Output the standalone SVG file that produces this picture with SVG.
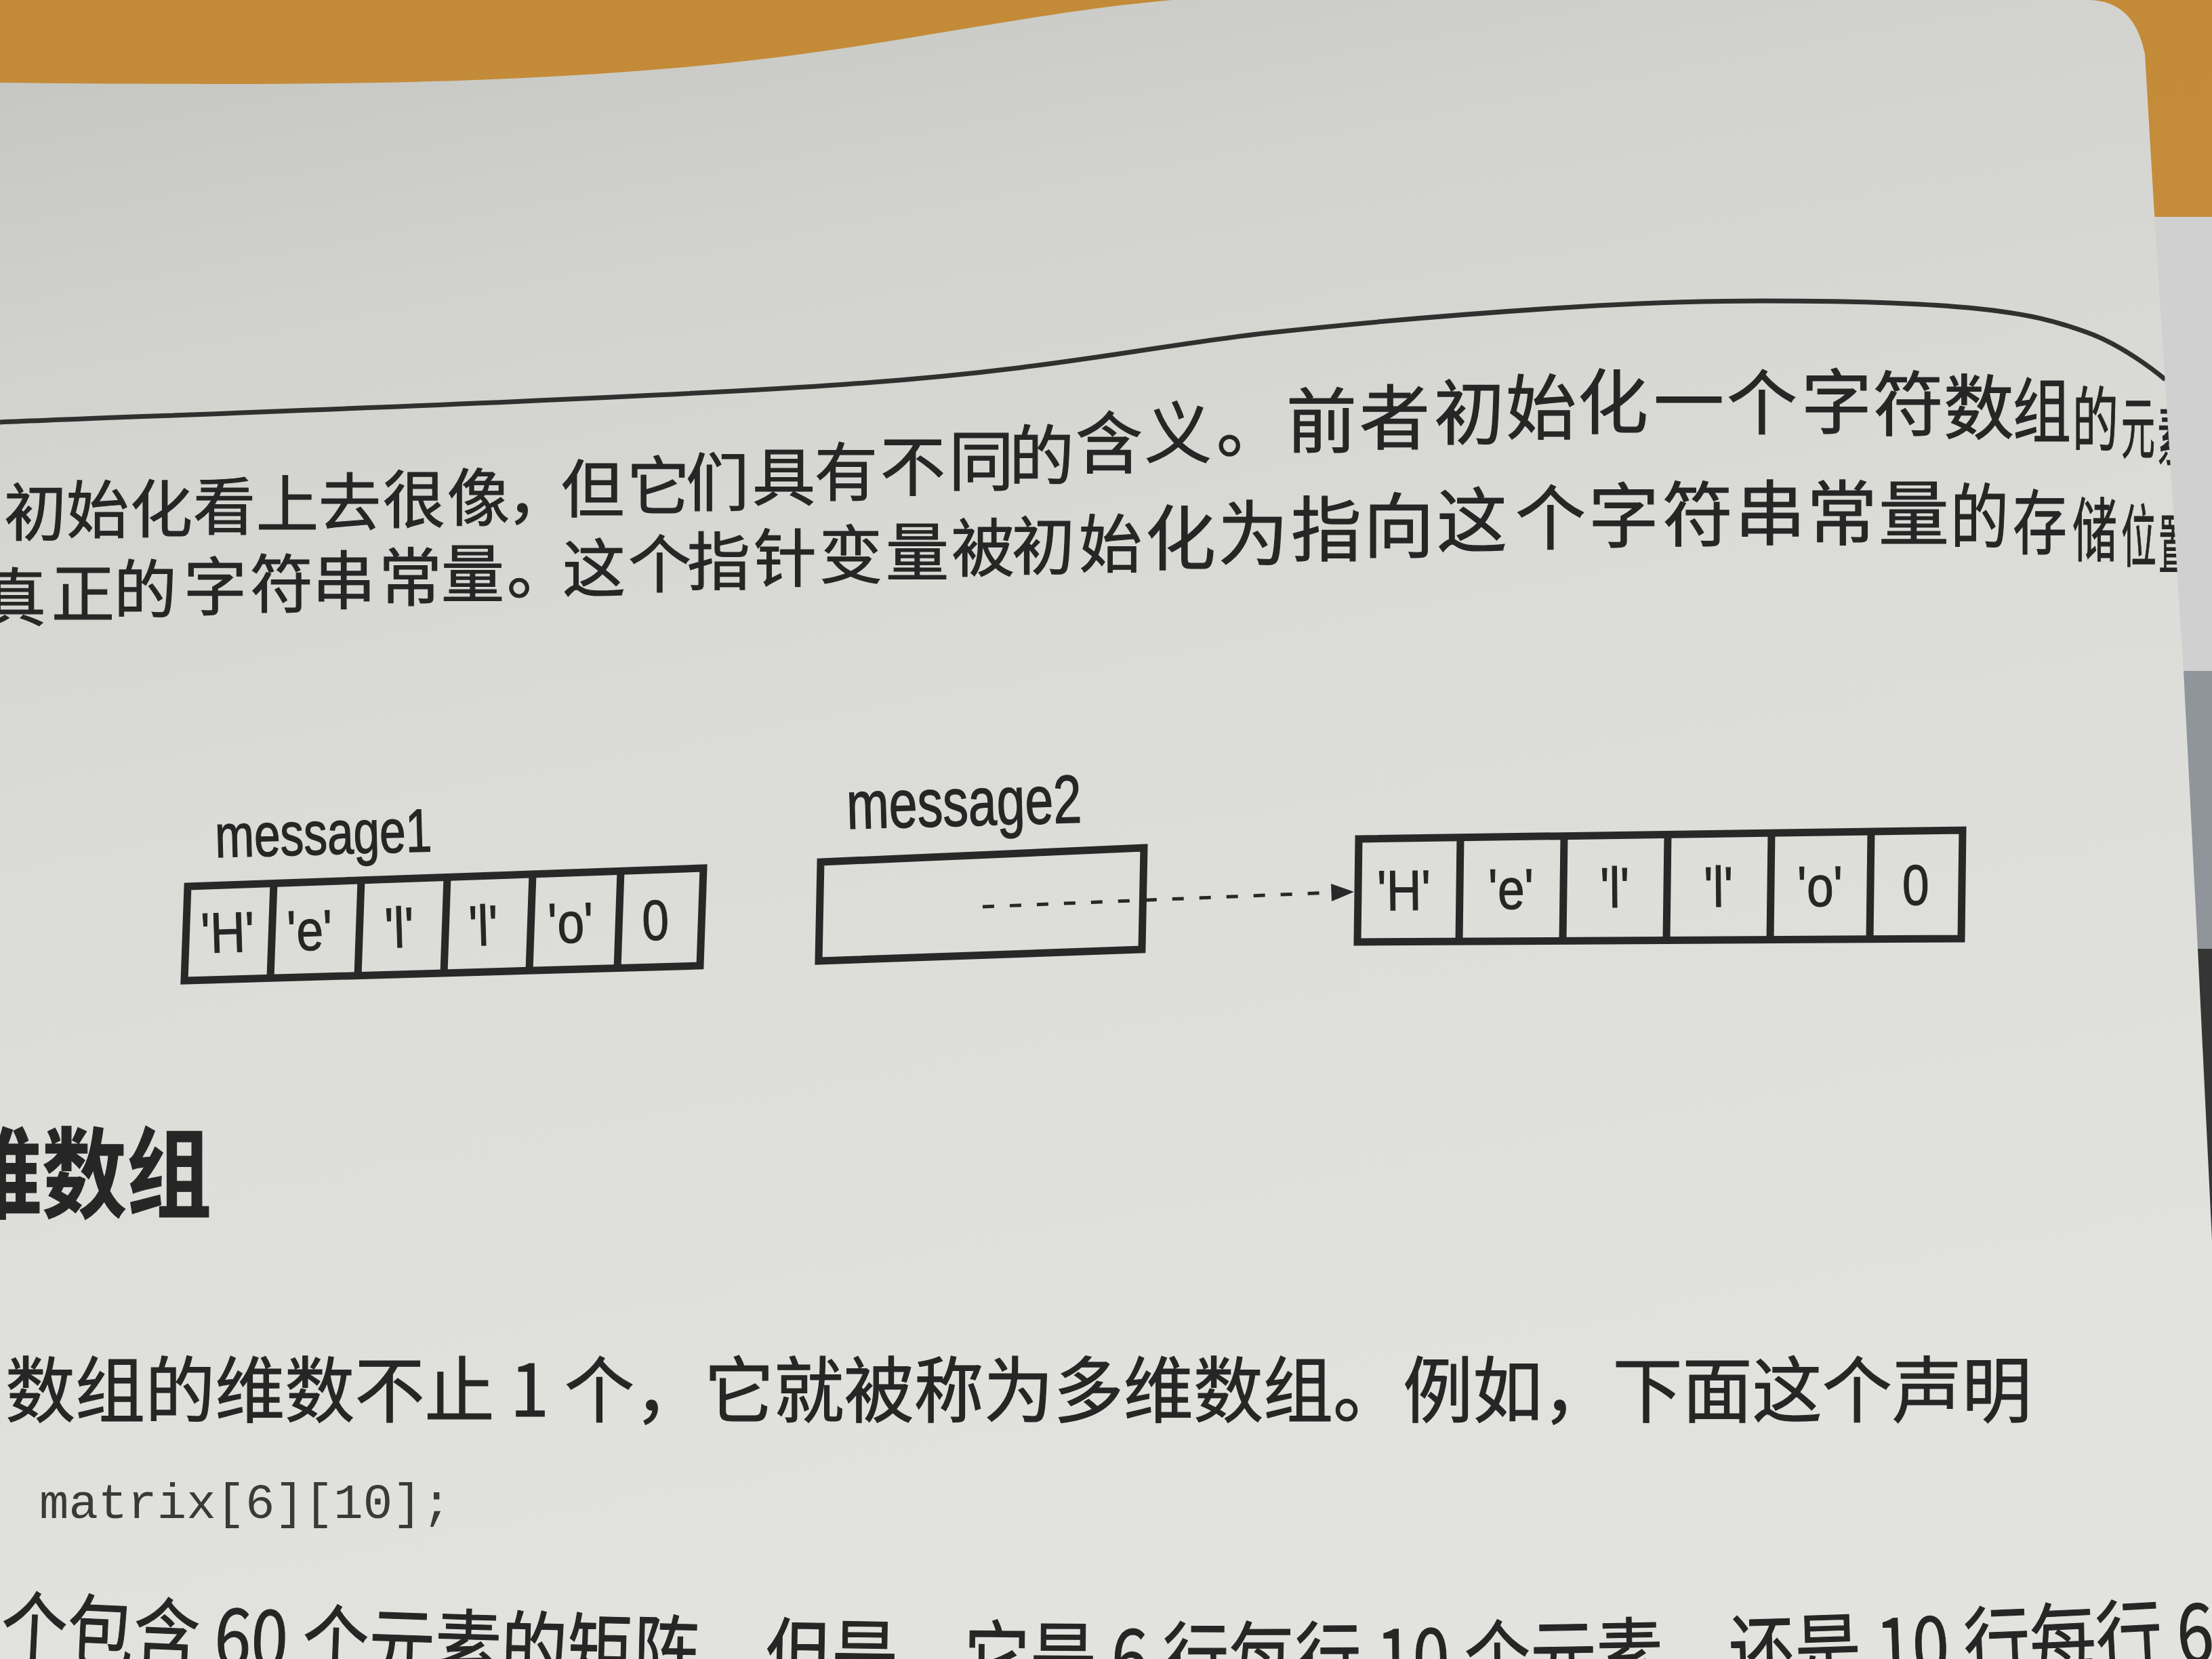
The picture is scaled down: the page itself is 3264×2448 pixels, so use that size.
<svg xmlns="http://www.w3.org/2000/svg" width="3264" height="2448" viewBox="0 0 3264 2448">
<defs>
<style>
.cjk{font-family:"Noto Sans CJK SC","Noto Sans",sans-serif;fill:#262626;stroke:#262626;stroke-width:1.2}
.lat{font-family:"Liberation Sans",Arial,sans-serif;fill:#262626;stroke:#262626;stroke-width:1.5}
.mono{font-family:"Liberation Mono","DejaVu Sans Mono",monospace;fill:#3a3a3a}
.box{fill:none;stroke:#282828;stroke-width:11;stroke-linejoin:miter}
.div{stroke:#282828;stroke-width:11}
.cell{font-family:"Liberation Sans",Arial,sans-serif;fill:#262626;stroke:#262626;stroke-width:1.2;font-size:84px;text-anchor:middle}
</style>
<linearGradient id="paper" x1="0" y1="0" x2="0.25" y2="1">
<stop offset="0" stop-color="#c3c4c0"/>
<stop offset="0.22" stop-color="#d2d3cf"/>
<stop offset="0.5" stop-color="#dbdcd7"/>
<stop offset="1" stop-color="#e2e3de"/>
</linearGradient>
<linearGradient id="wood" x1="0" y1="0" x2="0" y2="1">
<stop offset="0" stop-color="#c38a38"/>
<stop offset="1" stop-color="#d29c4e"/>
</linearGradient>
<clipPath id="pageClip">
<path d="M0,122 C400,126 700,126 1000,100 C1300,74 1500,20 1730,0 L3080,0 C3130,0 3155,30 3165,80 L3178,300 L3222,990 L3243,1400 L3264,1830 L3264,2448 L0,2448 Z"/>
</clipPath>
</defs>

<!-- background: wood and surroundings -->
<rect x="0" y="0" width="3264" height="2448" fill="url(#wood)"/>
<rect x="3100" y="320" width="164" height="670" fill="#cfd0cf"/>
<rect x="3100" y="990" width="164" height="410" fill="#8f959b"/>
<rect x="3100" y="1400" width="164" height="430" fill="#353535"/>

<!-- page -->
<path d="M0,122 C400,126 700,126 1000,100 C1300,74 1500,20 1730,0 L3080,0 C3130,0 3155,30 3165,80 L3178,300 L3222,990 L3243,1400 L3264,1830 L3264,2448 L0,2448 Z" fill="url(#paper)"/>

<g clip-path="url(#pageClip)">
<!-- header rule -->
<path d="M0,623 C208,614 937,589 1249,567 C1561,545 1700,510 1873,491 C2046,472 2168,463 2290,455 C2411,447 2498,444 2602,444 C2706,444 2834,447 2914,455 C2994,463 3034,474 3081,491 C3128,508 3176,544 3195,560" fill="none" stroke="#303030" stroke-width="7"/>

<!-- paragraph line 1 -->
<text class="cjk"><tspan font-size="92" x="6 98 192 285 378 470 565 660 748" y="790 786 785 781 778 775 771 768 764">初始化看上去很像，</tspan><tspan font-size="93" x="828 925 1012 1110 1202" y="756 751 746 738 731">但它们具有</tspan><tspan font-size="96" x="1299 1400 1489" y="723 715 707">不同的</tspan><tspan font-size="99" x="1587 1689 1795" y="690 675 666">含义。</tspan><tspan font-size="104" x="1898 2006 2116 2222 2328 2440 2548 2658 2764 2868" y="660 655 648 640 632 631 633 632 635 640">前者初始化一个字符数</tspan><tspan font-size="104" x="2970" y="645" textLength="86" lengthAdjust="spacingAndGlyphs">组</tspan><tspan font-size="104" x="3058" y="658" textLength="68" lengthAdjust="spacingAndGlyphs">的</tspan><tspan font-size="100" x="3130" y="668" textLength="50" lengthAdjust="spacingAndGlyphs">元</tspan><tspan font-size="96" x="3184" y="678" textLength="40" lengthAdjust="spacingAndGlyphs">素</tspan></text>

<!-- paragraph line 2 -->
<text class="cjk"><tspan font-size="93" x="-25 76 168 271 369 461 559 651 748 830 927 1014 1112 1209 1307 1404 1493 1592" y="916 910 904 900 896 891 886 881 876 873 867 863 858 853 849 843 840 837">真正的字符串常量。这个指针变量被初始</tspan><tspan font-size="104" x="1690 1797 1905 2012 2120 2236 2344 2453 2560 2666 2772" y="833 826 820 815 807 803 800 798 796 796 796">化为指向这个字符串常量</tspan><tspan font-size="104" x="2878" y="801" textLength="86" lengthAdjust="spacingAndGlyphs">的</tspan><tspan font-size="104" x="2970" y="810" textLength="80" lengthAdjust="spacingAndGlyphs">存</tspan><tspan font-size="102" x="3058" y="820" textLength="66" lengthAdjust="spacingAndGlyphs">储</tspan><tspan font-size="100" x="3130" y="828" textLength="52" lengthAdjust="spacingAndGlyphs">位</tspan><tspan font-size="96" x="3185" y="838" textLength="44" lengthAdjust="spacingAndGlyphs">置</tspan></text>

<!-- heading -->
<text class="cjk" x="-63" y="1786" font-size="145" font-weight="bold" fill="#1e1e1e" textLength="375" lengthAdjust="spacingAndGlyphs">维数组</text>

<text class="cjk" x="8" y="2090" font-size="106" textLength="2990" lengthAdjust="spacingAndGlyphs">数组的维数不止 1 个，它就被称为多维数组。例如，下面这个声明</text>

<text class="mono" x="58" y="2240" font-size="72" textLength="608" lengthAdjust="spacingAndGlyphs">matrix[6][10];</text>

<path id="lastLine" d="M0,2445 C1000,2495 2200,2515 3264,2452" fill="none"/>
<text class="cjk" font-size="118"><textPath href="#lastLine" textLength="3270" lengthAdjust="spacingAndGlyphs">个包含 60 个元素的矩阵。但是，它是 6 行每行 10 个元素，还是 10 行每行 6</textPath></text>
</g>

<!-- diagram: message1 -->
<g id="message1">
<text class="lat" x="318" y="1265" font-size="90" textLength="320" lengthAdjust="spacingAndGlyphs" transform="rotate(-1.6 318 1265)">message1</text>
<path class="box" d="M277,1308 L1038,1281 L1033,1425 L272,1447 Z"/>
<g id="m1-c1"><text class="cell" transform="translate(337,1405) rotate(-1.8) scale(0.85,1)">'H'</text></g>
<line class="div" x1="404" y1="1303" x2="399" y2="1443"/>
<g id="m1-c2"><text class="cell" transform="translate(458,1402) rotate(-1.8) scale(0.85,1)">'e'</text></g>
<line class="div" x1="533" y1="1299" x2="528" y2="1440"/>
<g id="m1-c3"><text class="cell" transform="translate(590,1398) rotate(-1.8) scale(0.85,1)">'l'</text></g>
<line class="div" x1="660" y1="1294" x2="655" y2="1436"/>
<g id="m1-c4"><text class="cell" transform="translate(714,1395) rotate(-1.8) scale(0.85,1)">'l'</text></g>
<line class="div" x1="786" y1="1290" x2="781" y2="1432"/>
<g id="m1-c5"><text class="cell" transform="translate(843,1391) rotate(-1.8) scale(0.85,1)">'o'</text></g>
<line class="div" x1="916" y1="1285" x2="911" y2="1429"/>
<g id="m1-c6"><text class="cell" transform="translate(968,1387) rotate(-1.8) scale(0.85,1)">0</text></g>
</g>

<!-- diagram: message2 pointer -->
<g id="message2">
<text class="lat" x="1250" y="1223" font-size="100" textLength="347" lengthAdjust="spacingAndGlyphs" transform="rotate(-1.6 1250 1223)">message2</text>
<path class="box" d="M1211,1272 L1688,1251 L1685,1401 L1208,1418 Z"/>
</g>

<!-- diagram: string literal -->
<g id="literal">
<path class="box" d="M2005,1238 L2896,1225 L2894,1385 L2003,1390 Z"/>
<g id="s-c1"><text class="cell" font-size="90" transform="translate(2072,1343) rotate(-0.6) scale(0.85,1)">'H'</text></g>
<line class="div" x1="2155" y1="1236" x2="2153" y2="1389"/>
<g id="s-c2"><text class="cell" font-size="90" transform="translate(2230,1341) rotate(-0.6) scale(0.85,1)">'e'</text></g>
<line class="div" x1="2308" y1="1234" x2="2306" y2="1388"/>
<g id="s-c3"><text class="cell" font-size="90" transform="translate(2383,1339) rotate(-0.6) scale(0.85,1)">'l'</text></g>
<line class="div" x1="2461" y1="1232" x2="2459" y2="1387"/>
<g id="s-c4"><text class="cell" font-size="90" transform="translate(2536,1338) rotate(-0.6) scale(0.85,1)">'l'</text></g>
<line class="div" x1="2614" y1="1229" x2="2612" y2="1387"/>
<g id="s-c5"><text class="cell" font-size="90" transform="translate(2686,1337) rotate(-0.6) scale(0.85,1)">'o'</text></g>
<line class="div" x1="2761" y1="1227" x2="2759" y2="1386"/>
<g id="s-c6"><text class="cell" font-size="90" transform="translate(2827,1335) rotate(-0.6) scale(0.85,1)">0</text></g>
</g>

<!-- connectors -->
<g id="connectors">
<line x1="1450" y1="1338" x2="1966" y2="1317" stroke="#282828" stroke-width="5" stroke-dasharray="17 23"/>
<path d="M1998,1316 L1964,1304 L1965,1330 Z" fill="#282828"/>
</g>
</svg>
